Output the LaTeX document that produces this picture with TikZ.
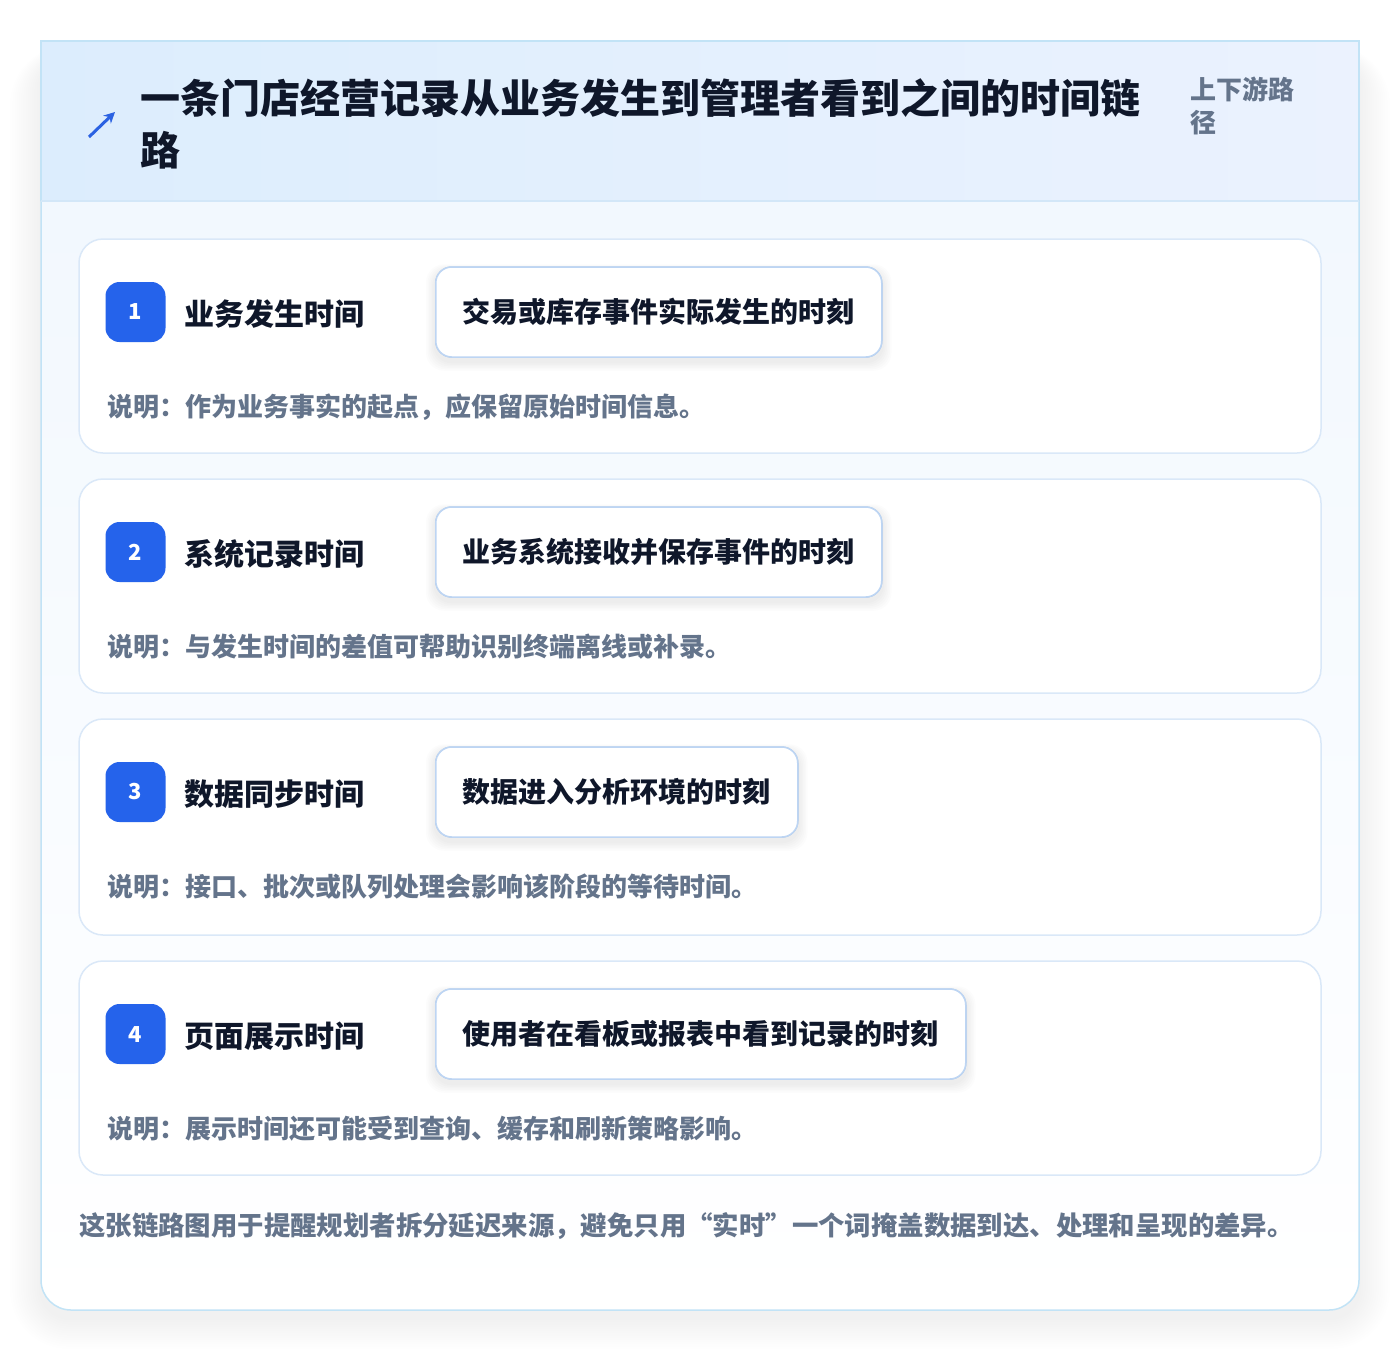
\documentclass[tikz,border=0pt]{standalone}
\usepackage{fontspec}
\setmainfont{Noto Sans CJK SC}
\usetikzlibrary{arrows.meta}

\definecolor{cardline}{HTML}{C2E3F6}
\definecolor{stepline}{HTML}{DAE8F8}
\definecolor{pillline}{HTML}{BDD5F3}
\definecolor{badgeblue}{HTML}{2563EB}
\definecolor{iconblue}{HTML}{2B62E2}
\definecolor{titleink}{HTML}{0F172A}
\definecolor{noteink}{HTML}{64748B}
\definecolor{headleft}{HTML}{DCEDFD}
\definecolor{headright}{HTML}{EBF2FE}
\definecolor{headline}{HTML}{D3E7F8}
\definecolor{bodytop}{HTML}{F0F7FE}

\tikzset{
  stepcard/.style={draw=stepline, line width=1.5pt, fill=white, rounded corners=24pt,
    minimum width=1242pt, inner sep=0pt},
  badge/.style={fill=badgeblue, rounded corners=14pt, minimum size=60pt, inner sep=0pt,
    text=white, font=\fontsize{22}{24}\selectfont\bfseries},
  steplabel/.style={anchor=west, inner sep=0pt, text=titleink,
    font=\fontsize{30}{36}\selectfont\bfseries},
  pill/.style={anchor=west, draw=pillline, line width=1.5pt, fill=white, rounded corners=16pt,
    minimum height=90pt, inner xsep=27pt, text=titleink,
    font=\fontsize{28}{34}\selectfont\bfseries},
  pillshade/.style={fill=black, opacity=0.01, rounded corners=18pt},
  stepnote/.style={anchor=west, inner sep=0pt, text=noteink,
    font=\fontsize{26}{30}\selectfont\bfseries},
  headtitle/.style={anchor=west, inner sep=0pt, text=titleink,
    font=\fontsize{40}{50}\selectfont\bfseries},
  sidetag/.style={anchor=west, inner sep=0pt, text=noteink,
    font=\fontsize{26}{30}\selectfont\bfseries},
}

\begin{document}
\begin{tikzpicture}[x=1pt,y=-1pt]
\fill[white] (0,0) rectangle (1400,1352);
\useasboundingbox (0,0) rectangle (1400,1352);

% soft shadow under the card
\foreach \k in {1,...,14}
  \fill[black, opacity=0.0045, rounded corners=30pt+\k*2pt]
    (41-\k*2.2,41-\k*0.8+16) rectangle (1359+\k*2.2,1310+\k*2.2+8);

% outer card
\path[draw=cardline, line width=1.5pt, rounded corners=30pt, top color=bodytop, bottom color=white]
  (41,41) rectangle (1359,1310);

% header band
\shade[left color=headleft, right color=headright] (41,41) rectangle (1359,201);
\draw[cardline, line width=1.5pt] (41,201) -- (41,41) -- (1359,41) -- (1359,201);
\draw[headline, line width=1.5pt] (41,201) -- (1359,201);

\draw[iconblue, line width=3pt, -{Stealth[length=11pt,width=11pt]}] (89,137) -- (115,112);
\node[headtitle] (title) at (140,98) {一条门店经营记录从业务发生到管理者看到之间的时间链};
\node[headtitle] (titletail) at (140,150) {路};
\node[sidetag] (tag) at (1190,89) {上下游路};
\node[sidetag] (tagtail) at (1190,123) {径};

% steps
\foreach \n/\t/\h/\lab/\pilltext/\desc in {
  1/239/214/业务发生时间/交易或库存事件实际发生的时刻/说明：作为业务事实的起点，应保留原始时间信息。,
  2/479/214/系统记录时间/业务系统接收并保存事件的时刻/说明：与发生时间的差值可帮助识别终端离线或补录。,
  3/719/216/数据同步时间/数据进入分析环境的时刻/说明：接口、批次或队列处理会影响该阶段的等待时间。,
  4/961/214/页面展示时间/使用者在看板或报表中看到记录的时刻/说明：展示时间还可能受到查询、缓存和刷新策略影响。}{
  \node[stepcard, minimum height=\h*1pt] (card\n) at (700,\t+\h/2) {};
  \node[badge] (badge\n) at (135.5,\t+73) {\raisebox{-2pt}{\n}};
  \node[steplabel] (label\n) at (184,\t+75) {\lab};
  \node[pill] (pill\n) at (435,\t+73) {\pilltext};
  \foreach \k in {1,...,6}
    \fill[pillshade] ([xshift=-\k*1.5pt, yshift=-4pt+\k*1pt]pill\n.north west)
      rectangle ([xshift=\k*1.5pt, yshift=-4pt-\k*1.5pt]pill\n.south east);
  \node[pill] at (pill\n.west) {\pilltext};
  \node[stepnote] (note\n) at (107,\t+168) {\desc};
}

\node[stepnote, font=\fontsize{26.4}{32}\selectfont\bfseries] (summary) at (79,1226)
  {这张链路图用于提醒规划者拆分延迟来源，避免只用“实时”一个词掩盖数据到达、处理和呈现的差异。};
\end{tikzpicture}
\end{document}
